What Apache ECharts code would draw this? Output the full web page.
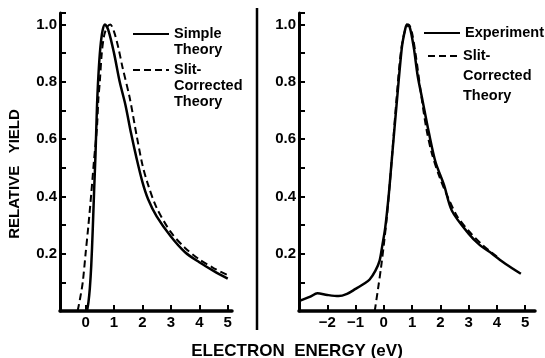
<!DOCTYPE html>
<html>
<head>
<meta charset="utf-8">
<script src="https://cdn.jsdelivr.net/npm/echarts@6/dist/echarts.min.js"></script>
<style>
  html, body { margin: 0; padding: 0; background: #fff; }
  #chart { width: 545px; height: 358px; }
</style>
</head>
<body>
<div id="chart"></div>
<script>
// left panel
const simpleX = [0.05, 0.1, 0.15, 0.2, 0.25, 0.3, 0.35, 0.4, 0.45, 0.52, 0.6, 0.68, 0.8, 1.0, 1.2, 1.4, 1.6, 1.8, 2.0, 2.2, 2.5, 3.0, 3.5, 4.0, 4.5, 5.0]
const simpleY = [0, 0.03, 0.08, 0.16, 0.28, 0.42, 0.55, 0.71, 0.82, 0.92, 0.98, 1.0, 0.98, 0.9, 0.8, 0.72, 0.62, 0.53, 0.45, 0.39, 0.33, 0.26, 0.205, 0.17, 0.14, 0.113]
const slitLeftX = [-0.28, -0.2, -0.1, 0, 0.1, 0.2, 0.3, 0.4, 0.45, 0.5, 0.57, 0.65, 0.75, 0.87, 1.0, 1.15, 1.3, 1.55, 1.8, 2.0, 2.2, 2.5, 3.0, 3.5, 4.0, 4.5, 5.0]
const slitLeftY = [0, 0.04, 0.1, 0.2, 0.3, 0.41, 0.53, 0.64, 0.74, 0.8, 0.9, 0.96, 0.99, 1.0, 0.975, 0.92, 0.85, 0.745, 0.61, 0.51, 0.44, 0.36, 0.275, 0.22, 0.18, 0.15, 0.125]

// right panel
const expX = [-3, -2.6, -2.35, -2.0, -1.6, -1.3, -1.0, -0.7, -0.5, -0.3, -0.15, -0.05, 0.05, 0.18, 0.28, 0.47, 0.64, 0.75, 0.82, 0.92, 1.06, 1.2, 1.36, 1.6, 1.83, 2.13, 2.41, 3.0, 3.4, 3.83, 4.3, 4.85]
const expY = [0.035, 0.05, 0.062, 0.056, 0.052, 0.06, 0.077, 0.095, 0.11, 0.14, 0.175, 0.23, 0.29, 0.41, 0.525, 0.74, 0.92, 0.98, 1.0, 0.99, 0.92, 0.82, 0.74, 0.62, 0.52, 0.44, 0.35, 0.27, 0.23, 0.2, 0.165, 0.13]
const slitRightX = [-0.32, -0.2, -0.1, 0, 0.1, 0.2, 0.3, 0.45, 0.6, 0.75, 0.88, 1.0, 1.15, 1.3, 1.5, 1.7, 2.0, 2.3, 2.6, 3.0, 3.5, 4.0]
const slitRightY = [0, 0.08, 0.15, 0.23, 0.32, 0.43, 0.55, 0.74, 0.9, 0.98, 1.0, 0.97, 0.88, 0.77, 0.64, 0.55, 0.46, 0.39, 0.33, 0.28, 0.23, 0.19]

const FONT = 'Liberation Sans'
const zip = (xs, ys) => xs.map((x, i) => [x, ys[i]])

const chart = echarts.init(document.getElementById('chart'))

function xAxis(gridIndex, min, max) {
  return {
    type: 'value',
    gridIndex,
    min,
    max,
    minInterval: 1,
    maxInterval: 1,
    splitNumber: 8,
    axisLine: { onZero: false, lineStyle: { color: '#000', width: 3.5 } },
    axisTick: { inside: true, length: 6, lineStyle: { color: '#000', width: 2 } },
    axisLabel: {
      showMinLabel: false,
      showMaxLabel: false,
      color: '#000',
      fontFamily: FONT,
      fontWeight: 'bold',
      fontSize: 15,
      margin: 4,
      formatter: v => (Math.abs(v - Math.round(v)) > 1e-6 ? '' : String(v).replace('-', '\u2212')),
    },
    splitLine: { show: false },
  }
}

function yAxis(gridIndex) {
  return {
    type: 'value',
    gridIndex,
    min: 0,
    max: 1.04,
    interval: 0.1,
    axisLine: { show: true, onZero: false, lineStyle: { color: '#000', width: 3 } },
    axisTick: { show: true, inside: true, length: 6, lineStyle: { color: '#000', width: 2 } },
    axisLabel: {
      color: '#000',
      fontFamily: FONT,
      fontWeight: 'bold',
      fontSize: 15,
      margin: 3,
      formatter: v => {
        const k = Math.round(v * 10)
        if (Math.abs(v * 10 - k) > 1e-6 || k === 0 || k % 2) return ''
        return v.toFixed(1)
      },
    },
    splitLine: { show: false },
  }
}

const legendText = { color: '#000', fontFamily: FONT, fontWeight: 'bold', fontSize: 14.5 }
function legend(name, text, left, top, width, lineHeight) {
  return {
    data: [name],
    left, top,
    padding: 0,
    itemWidth: width,
    itemHeight: 10,
    selectedMode: false,
    formatter: () => text,
    textStyle: { ...legendText, lineHeight },
  }
}

const hidden = { color: 'rgba(0,0,0,0)' }

chart.setOption({
  animation: false,
  backgroundColor: '#fff',
  grid: [
    { left: 60, right: 313, top: 13, bottom: 47 },
    { left: 299, right: 10, top: 13, bottom: 47 },
  ],
  xAxis: [xAxis(0, -0.9, 5.15), xAxis(1, -3, 5.35)],
  yAxis: [yAxis(0), yAxis(1)],
  legend: [
    legend('Simple Theory', '\nSimple\nTheory', 132, 10, 36, 16),
    legend('Slit-Corrected Theory (left)', '\n\nSlit-\nCorrected\nTheory', 132, 30, 36, 16),
    legend('Experiment', 'Experiment', 423, 25, 36, 16),
    legend('Slit-Corrected Theory (right)', '\n\nSlit-\nCorrected\nTheory', 427, 6, 30, 20),
  ],
  graphic: [
    { type: 'line', shape: { x1: 257, y1: 8, x2: 257, y2: 330 }, style: { stroke: '#000', lineWidth: 2.5 } },
    {
      type: 'text', x: 15, y: 174, rotation: Math.PI / 2,
      style: { text: 'RELATIVE   YIELD', fill: '#000', font: `bold 15px "${FONT}"`, align: 'center', verticalAlign: 'middle' },
    },
    {
      type: 'text', x: 297, y: 351,
      style: { text: 'ELECTRON  ENERGY (eV)', fill: '#000', font: `bold 17px "${FONT}"`, align: 'center', verticalAlign: 'middle' },
    },
  ],
  series: [
    {
      name: 'Simple Theory', type: 'line', xAxisIndex: 0, yAxisIndex: 0,
      data: zip(simpleX, simpleY), symbol: 'none', smooth: 0.3,
      itemStyle: hidden,
      lineStyle: { color: '#000', width: 2.5 },
    },
    {
      name: 'Slit-Corrected Theory (left)', type: 'line', xAxisIndex: 0, yAxisIndex: 0,
      data: zip(slitLeftX, slitLeftY), symbol: 'none', smooth: 0.3,
      itemStyle: hidden,
      lineStyle: { color: '#000', width: 2, type: [7, 4] },
    },
    {
      name: 'Experiment', type: 'line', xAxisIndex: 1, yAxisIndex: 1,
      data: zip(expX, expY), symbol: 'none', smooth: 0.3,
      itemStyle: hidden,
      lineStyle: { color: '#000', width: 2.5 },
    },
    {
      name: 'Slit-Corrected Theory (right)', type: 'line', xAxisIndex: 1, yAxisIndex: 1,
      data: zip(slitRightX, slitRightY), symbol: 'none', smooth: 0.3,
      itemStyle: hidden,
      lineStyle: { color: '#000', width: 2, type: [7, 4] },
    },
  ],
})
</script>
</body>
</html>
